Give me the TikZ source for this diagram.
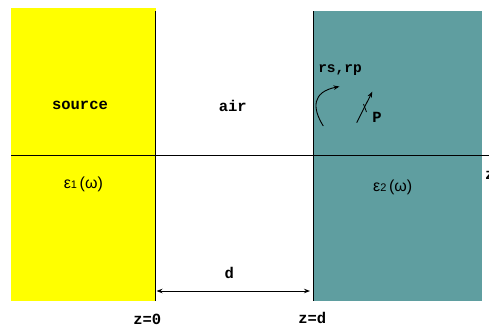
\documentclass[tikz,border=0pt]{standalone}
\usepackage{fontspec}
\setmonofont{Liberation Mono}
\newfontfamily\symfont{Liberation Sans}
\usetikzlibrary{arrows.meta}
\definecolor{srcyellow}{RGB}{255,255,0}
\definecolor{mediumteal}{RGB}{95,158,160}
\tikzset{
  lbl/.style={font=\ttfamily\bfseries\fontsize{15.5}{17}\selectfont, inner sep=0pt},
  eps/.style={font=\symfont\fontsize{16}{18}\selectfont, inner sep=0pt},
  wall/.style={line width=1pt},
  arr/.style={line width=0.9pt, -{Stealth[length=6pt,width=4.5pt]}},
}
\begin{document}
\begin{tikzpicture}[x=1pt,y=-1pt]
\useasboundingbox (0,0) rectangle (489,327);
\fill[srcyellow] (11,8) rectangle (155.7,300.7);
\fill[mediumteal] (313.3,11) rectangle (482,300.7);
\draw[wall] (155.5,11) -- (155.5,300.7);
\draw[wall] (313.5,11) -- (313.5,300.7);
\draw[line width=0.8pt] (11,155.7) -- (489,155.7);
\node[lbl] (src) at (80,105.7) {source};
\node[lbl] (air) at (232.7,105.7) {air};
\node[lbl,font=\ttfamily\bfseries\fontsize{14.5}{16}\selectfont] (r) at (340,70) {rs,rp};
\node[lbl] (P) at (377,117.3) {P};
\node[eps] (e1) at (83.3,184.3) {ε{\fontsize{11}{12}\selectfont 1}\,(ω)};
\node[eps] (e2) at (392.7,187.3) {ε{\fontsize{11}{12}\selectfont 2}\,(ω)};
\node[lbl,anchor=west] (z) at (485,175) {z};
\node[lbl] (d) at (229.3,273.3) {d};
\node[lbl] (z0) at (147.3,319) {z=0};
\node[lbl] (zd) at (312.3,318) {z=d};
\coordinate (a0) at (156.5,291);
\coordinate (a1) at (310,291);
\draw[line width=0.9pt, {Stealth[length=6pt,width=4.5pt]}-{Stealth[length=6pt,width=4.5pt]}] (a0) -- (a1);
\coordinate (c0) at (323.3,126);
\coordinate (c1) at (339.5,86.5);
\draw[arr] (c0) .. controls (312,108) and (312,92) .. (c1);
\coordinate (p0) at (356.7,122.7);
\coordinate (p1) at (372.3,91.7);
\draw[arr] (p0) -- (p1);
\coordinate (t0) at (363.5,104);
\coordinate (t1) at (366.5,112);
\draw[line width=0.8pt] (t0) -- (t1);
\end{tikzpicture}
\end{document}
